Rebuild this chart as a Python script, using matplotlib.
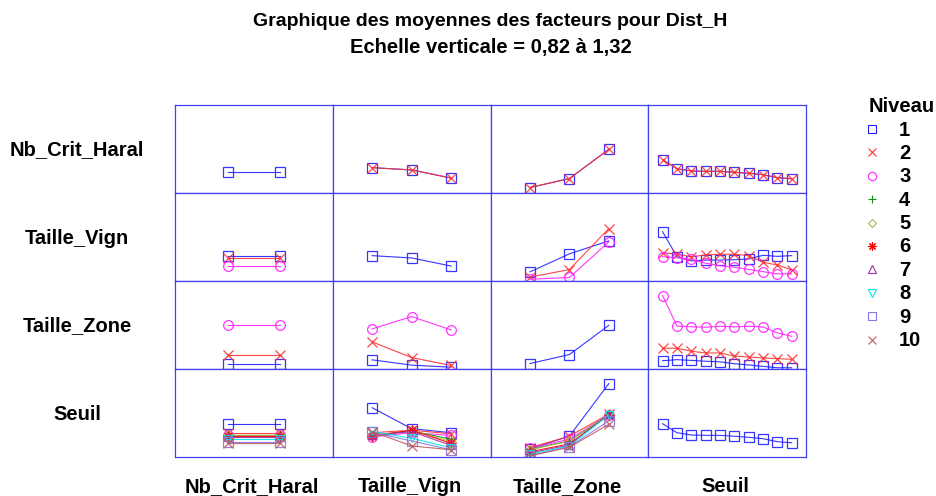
import matplotlib.pyplot as plt

plt.rcParams['font.family'] = ['Liberation Sans', 'DejaVu Sans']

FACTORS = ['Nb_Crit_Haral', 'Taille_Vign', 'Taille_Zone', 'Seuil']
LEVEL_NAMES = ['1', '2', '3', '4', '5', '6', '7', '8', '9', '10']

# main effects of each factor on Dist_H
NCH_MEAN = [0.939, 0.939]
TV_MEAN = [0.964, 0.951, 0.905]
TZ_MEAN = [0.851, 0.902, 1.068]
SEUIL_MEAN = [1.009, 0.958, 0.945, 0.943, 0.943, 0.938, 0.932, 0.924, 0.907, 0.901]

# two-way cell means (rows: first factor levels, cols: second factor levels)
TV_TZ = [
    [0.872, 0.974, 1.048],
    [0.842, 0.885, 1.118],
    [0.830, 0.840, 1.042],
]
TV_SEUIL = [
    [1.100, 0.958, 0.934, 0.939, 0.939, 0.941, 0.945, 0.966, 0.960, 0.964],
    [0.981, 0.972, 0.958, 0.968, 0.972, 0.972, 0.964, 0.926, 0.911, 0.883],
    [0.958, 0.952, 0.943, 0.921, 0.907, 0.898, 0.886, 0.873, 0.861, 0.861],
]
TZ_SEUIL = [
    [0.867, 0.873, 0.869, 0.864, 0.861, 0.850, 0.843, 0.835, 0.827, 0.827],
    [0.938, 0.938, 0.921, 0.911, 0.911, 0.894, 0.888, 0.883, 0.879, 0.875],
    [1.237, 1.064, 1.060, 1.057, 1.063, 1.059, 1.063, 1.059, 1.025, 1.006],
]

Y_MIN, Y_MAX = 0.82, 1.32

MAIN = [NCH_MEAN, TV_MEAN, TZ_MEAN, SEUIL_MEAN]
TWO_WAY = {(1, 2): TV_TZ, (1, 3): TV_SEUIL, (2, 3): TZ_SEUIL}

COLORS = ['#2020ff', '#ff3030', '#ff20ff', '#109010', '#b0b050',
          '#ff0000', '#a030a0', '#00e8e8', '#8878e0', '#c05a5a']
MARKERS = ['s', 'x', 'o', '+', 'D', (8, 2, 0), '^', 'v', 's', 'x']
MSIZES = [6.5, 7, 7, 7, 5, 7, 6, 6, 6.5, 7]
GRID = '#4040f0'


def cell_lines(r, c):
    '''Return (level index, y values) pairs for cell row r / column c.'''
    if r == c:
        return [(0, MAIN[r])]
    if r == 0:
        # Nb_Crit_Haral levels give the same means
        return [(i, MAIN[c]) for i in range(len(MAIN[0]))]
    if c == 0:
        return [(i, [v] * len(MAIN[0])) for i, v in enumerate(MAIN[r])]
    if r < c:
        table = TWO_WAY[(r, c)]
        return [(i, row) for i, row in enumerate(table)]
    table = TWO_WAY[(c, r)]
    n = len(table[0])
    return [(i, [table[j][i] for j in range(len(table))]) for i in range(n)]


W, H = 936, 496
fig = plt.figure(figsize=(W / 100, H / 100), dpi=100)

left, right, top, bottom = 175, 806, 105, 457
cw = (right - left) / 4
ch = (bottom - top) / 4

for r in range(4):
    for c in range(4):
        x0 = left + c * cw
        y0 = top + (r + 1) * ch
        ax = fig.add_axes([x0 / W, 1 - y0 / H, cw / W, ch / H])
        n = len(MAIN[c])
        xs = list(range(1, n + 1))
        for lvl, ys in cell_lines(r, c):
            ax.plot(xs, ys, color=COLORS[lvl], lw=0.8, marker=MARKERS[lvl],
                    ms=MSIZES[lvl], mfc='none', mew=0.9, alpha=0.9)
        ax.set_xlim(0, n + 1)
        ax.set_ylim(Y_MIN, Y_MAX)
        ax.set_xticks([])
        ax.set_yticks([])
        for s in ax.spines.values():
            s.set_color(GRID)
            s.set_linewidth(0.9)

# row and column labels
for i, name in enumerate(FACTORS):
    fig.text(77 / W, 1 - (top + (i + 0.5) * ch + 1) / H, name,
             ha='center', va='center', fontsize=14.5, fontweight='bold')
    fig.text((left + (i + 0.5) * cw - 2) / W, 1 - 487 / H, name,
             ha='center', va='center', fontsize=14.5, fontweight='bold')

fig.text((left + right) / 2 / W, 1 - 22 / H,
         'Graphique des moyennes des facteurs pour Dist_H',
         ha='center', va='center', fontsize=14, fontweight='bold')
fig.text((left + right) / 2 / W, 1 - 47 / H,
         'Echelle verticale = 0,82 à 1,32',
         ha='center', va='center', fontsize=14.5, fontweight='bold')

# legend
leg = fig.add_axes([0, 0, 1, 1])
leg.set_xlim(0, W)
leg.set_ylim(H, 0)
leg.axis('off')
leg.text(902, 106, 'Niveau', ha='center', va='center',
         fontsize=14.5, fontweight='bold')
for i, name in enumerate(LEVEL_NAMES):
    y = 129 + i * 23.4
    leg.plot([872], [y], color=COLORS[i], marker=MARKERS[i],
             ms=MSIZES[i] * 0.85, mfc='none', mew=0.8, ls='none')
    leg.text(899, y + 1, name, ha='left', va='center',
             fontsize=14.5, fontweight='bold')

fig.savefig('out.png', dpi=100)
